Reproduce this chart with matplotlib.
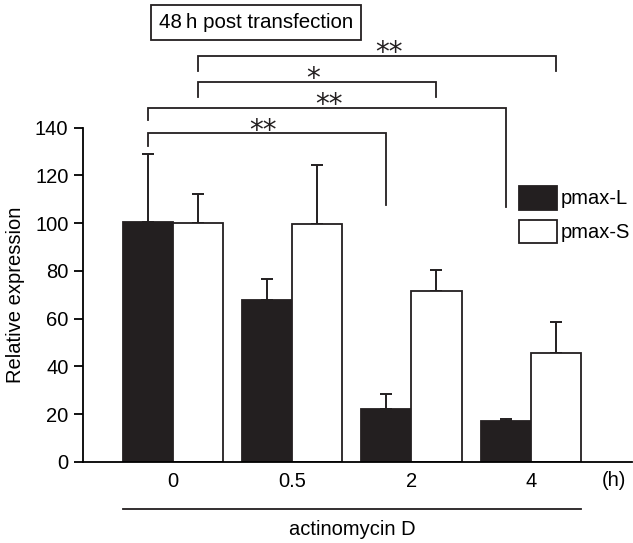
import matplotlib
matplotlib.use('Agg')
import matplotlib.pyplot as plt
import numpy as np
from matplotlib.patches import Patch
import matplotlib.transforms as mtransforms

plt.rcParams['font.family'] = ['Liberation Sans', 'DejaVu Sans']

# data
times = ['0', '0.5', '2', '4']
pmax_L = [100.5, 68, 22, 17]
pmax_L_err = [28.5, 8.5, 6.3, 0.8]
pmax_S = [100, 99.5, 71.5, 45.5]
pmax_S_err = [12.3, 25, 9, 13]

# significance brackets: (left series, group, right series, group, y, left leg end, right leg end, text, text x)
brackets = [
    ('L', 0, 'L', 2, 137.6, 132.5, 107.8, '**', 0.754),
    ('L', 0, 'L', 3, 148.2, 143.2, 106.6, '**', 1.307),
    ('S', 0, 'S', 2, 159.2, 153.0, 153.0, '*', 1.174),
    ('S', 0, 'S', 3, 170.0, 163.8, 163.8, '**', 1.81),
]

FS = 14.5
fig = plt.figure(figsize=(6.33, 5.43), dpi=100)
ax = fig.add_axes([0.1311, 0.1492, 0.8669, 0.6156])

x = np.arange(len(times))
w = 0.42
ax.bar(x - w/2, pmax_L, w, color='#231f20', edgecolor='#231f20', linewidth=1.3,
       label='pmax-L', zorder=2)
ax.bar(x + w/2, pmax_S, w, color='white', edgecolor='#231f20', linewidth=1.3,
       label='pmax-S', zorder=2)
ax.errorbar(x - w/2, pmax_L, yerr=[np.zeros(4), pmax_L_err], fmt='none',
            ecolor='#231f20', elinewidth=1.4, capsize=4.5, capthick=1.4, zorder=1)
ax.errorbar(x + w/2, pmax_S, yerr=[np.zeros(4), pmax_S_err], fmt='none',
            ecolor='#231f20', elinewidth=1.4, capsize=4.5, capthick=1.4, zorder=1)

ax.set_xlim(-0.754, 3.847)
ax.set_ylim(0, 140)
ax.set_yticks(range(0, 141, 20))
ax.set_xticks(x)
ax.set_xticklabels(times)
ax.tick_params(axis='x', length=0, pad=7, labelsize=FS)
ax.tick_params(axis='y', length=6.5, width=1.3, pad=4, labelsize=FS)
for s in ['top', 'right']:
    ax.spines[s].set_visible(False)
for s in ['left', 'bottom']:
    ax.spines[s].set_linewidth(1.3)
ax.set_ylabel('Relative expression', fontsize=FS)
ax.yaxis.set_label_coords(-0.105, 0.5)

# brackets
def pos(series, g):
    return g - w/2 if series == 'L' else g + w/2

for s1, g1, s2, g2, y, yl, yr, txt, tx in brackets:
    x1, x2 = pos(s1, g1), pos(s2, g2)
    ax.plot([x1, x1, x2, x2], [yl, y, y, yr], color='#231f20', lw=1.3,
            clip_on=False, solid_joinstyle='miter')
    ax.text(tx, y - 2.2, txt, ha='center', va='baseline', fontsize=20,
            family='DejaVu Sans', color='#231f20', clip_on=False)

# x axis extras
trans = mtransforms.blended_transform_factory(ax.transData, ax.transAxes)
ax.plot([x[0] - w, x[-1] + w], [-0.1406, -0.1406], color='#231f20', lw=1.3,
        transform=trans, clip_on=False)
ax.text(1.5, -0.203, 'actinomycin D', transform=trans, ha='center', va='center',
        fontsize=FS)
fig.text(614/633, 1 - 480/543, '(h)', ha='center', va='center', fontsize=FS)

fig.text(256/633, 1 - 22.5/543, '48\u2009h post transfection', ha='center', va='center',
         fontsize=14.8,
         bbox=dict(boxstyle='square,pad=0.38', facecolor='white', edgecolor='#231f20', lw=1.3))

handles = [Patch(facecolor='#231f20', edgecolor='#231f20', lw=1.3, label='pmax-L'),
           Patch(facecolor='white', edgecolor='#231f20', lw=1.3, label='pmax-S')]
ax.legend(handles=handles, loc='upper left', bbox_to_anchor=(519/633, 1 - 186/543),
          bbox_transform=fig.transFigure, frameon=False, fontsize=FS,
          handlelength=1.88, handleheight=1.42, labelspacing=0.5, handletextpad=0.2,
          borderpad=0, borderaxespad=0)

fig.savefig('out.png', dpi=100)
